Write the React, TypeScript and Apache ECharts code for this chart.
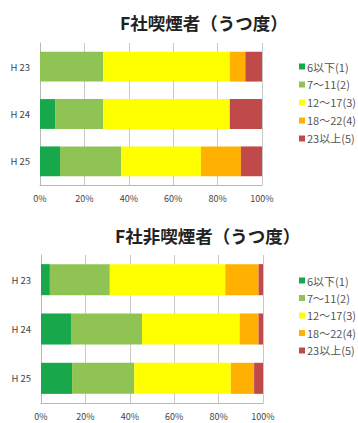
import React, { useEffect, useRef } from "react";
import * as echarts from "echarts";

const categories = ["H 23", "H 24", "H 25"];
const levelNames = ["6以下(1)", "7～11(2)", "12～17(3)", "18～22(4)", "23以上(5)"];
const levelColors = ["#16a84a", "#8fc454", "#ffff00", "#ffb000", "#c0494a"];
const xTicks = [0, 20, 40, 60, 80, 100];

// 喫煙者 (%)
const smoker1 = [0, 7, 9];
const smoker2 = [28.5, 21.5, 27.5];
const smoker3 = [57, 57, 36];
const smoker4 = [7, 0, 18];
const smoker5 = [7.5, 14.5, 9.5];

// 非喫煙者 (%)
const nonSmoker1 = [4, 13.5, 14];
const nonSmoker2 = [27, 32, 28];
const nonSmoker3 = [52, 44, 43.5];
const nonSmoker4 = [15, 8.5, 10.5];
const nonSmoker5 = [2, 2, 4];

const titles = ["F社喫煙者（うつ度）", "F社非喫煙者（うつ度）"];

const FONT = "'Noto Sans CJK JP', 'Noto Sans', sans-serif";

export default function App() {
  const ref = useRef<HTMLDivElement>(null);

  useEffect(() => {
    if (!ref.current) return;
    const chart = echarts.init(ref.current, null, { renderer: "svg" });
    const groups = [
      [smoker1, smoker2, smoker3, smoker4, smoker5],
      [nonSmoker1, nonSmoker2, nonSmoker3, nonSmoker4, nonSmoker5],
    ];
    const grids = [
      { left: 40, width: 222, top: 43, height: 142 },
      { left: 41, width: 222, top: 255, height: 148 },
    ];

    const xAxis = grids.map((_, i) => ({
      type: "value",
      gridIndex: i,
      min: xTicks[0],
      max: xTicks[xTicks.length - 1],
      interval: xTicks[1] - xTicks[0],
      axisLine: { show: true, lineStyle: { color: "#b8b8b8" } },
      axisTick: { show: false },
      splitLine: { show: true, lineStyle: { color: "#c8c8c8" } },
      axisLabel: {
        formatter: "{value}%",
        fontSize: 9,
        color: "#444",
        fontFamily: FONT,
        margin: 9,
      },
    }));

    const yAxis = grids.map((_, i) => ({
      type: "category",
      gridIndex: i,
      data: categories,
      inverse: true,
      axisLine: { show: true, lineStyle: { color: "#b8b8b8" } },
      axisTick: { show: false },
      axisLabel: { fontSize: 9.5, color: "#444", fontFamily: FONT, margin: 10 },
    }));

    const series: any[] = [];
    groups.forEach((g, gi) => {
      g.forEach((values, si) => {
        series.push({
          type: "bar",
          name: levelNames[si],
          stack: "g" + gi,
          xAxisIndex: gi,
          yAxisIndex: gi,
          data: values,
          barCategoryGap: "37%",
          itemStyle: { color: levelColors[si] },
        });
      });
    });

    const legends = [
      { top: 56, gap: 7 },
      { top: 270, gap: 6.5 },
    ];
    chart.setOption({
      animation: false,
      color: levelColors,
      title: titles.map((t, i) => ({
        text: t,
        left: i === 0 ? 115 : 110,
        top: i === 0 ? 9 : 222,
        textStyle: { fontSize: 17.5, fontWeight: "bold", color: "#222", fontFamily: FONT },
      })),
      legend: legends.map((l) => ({
        orient: "vertical",
        left: 294,
        top: l.top,
        data: levelNames,
        icon: "rect",
        itemWidth: 6,
        itemHeight: 6,
        itemGap: l.gap,
        textStyle: { fontSize: 11, color: "#555", fontFamily: FONT, padding: [0, 0, 0, -3] },
      })),
      grid: grids,
      xAxis,
      yAxis,
      series,
    });
    return () => chart.dispose();
  }, []);

  return (
    <div
      ref={ref}
      style={{ position: "absolute", left: 0, top: 0, width: 358, height: 423, background: "#fff" }}
    />
  );
}
